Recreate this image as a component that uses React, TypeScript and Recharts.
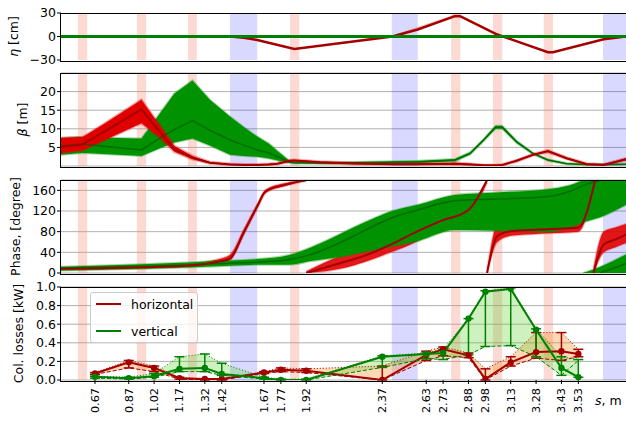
import React from "react";
import {
  ComposedChart,
  Line,
  Area,
  XAxis,
  YAxis,
  CartesianGrid,
  ReferenceArea,
  ErrorBar,
} from "recharts";

const FONT = "DejaVu Sans, sans-serif";
const S_DOMAIN: [number, number] = [0.469, 3.812];

// lattice: quadrupoles (red) and dipoles (blue)
const quadStart = [0.569, 0.918, 1.22, 1.824, 2.777, 3.025, 3.325];
const quadEnd = [0.624, 0.973, 1.273, 1.879, 2.832, 3.08, 3.38];
const dipoleStart = [1.469, 2.426, 3.676];
const dipoleEnd = [1.63, 2.58, 3.95];

// dispersion, cm
const etaS = [0.469, 1.469, 1.55, 1.63, 1.85, 2.43, 2.58, 2.8, 2.83, 3.05, 3.35, 3.38, 3.68, 3.812];
const etaH = [0, 0, -1.5, -4.5, -16, 0, 9, 26, 26, 2.5, -20, -20, -3.5, 0];
const etaHHi = [0, 0, -1.2, -4, -15.5, 1.5, 12, 28, 28, 4, -19.5, -19.5, -3, 0.5];
const etaV = [0, 0, 0, 0, 0, 0, 0, 0, 0, 0, 0, 0, 0, 0];

// beta functions, m
const betaS = [0.469, 0.597, 0.72, 0.945, 1.055, 1.14, 1.247, 1.35, 1.469, 1.55, 1.63, 1.7, 1.75, 1.824, 1.85, 2.0, 2.2, 2.43, 2.58, 2.8, 2.89, 2.97, 3.04, 3.08, 3.165, 3.26, 3.35, 3.46, 3.58, 3.68, 3.812];
const betaH = [5.2, 5.8, 9.1, 15.2, 9.2, 4.5, 2.2, 0.9, 0.4, 0.3, 0.3, 0.4, 0.6, 1.4, 1.5, 1.0, 0.7, 0.5, 0.5, 0.6, 0.4, 0.2, 0.2, 0.3, 1.4, 3.0, 4.0, 2.1, 0.5, 0.3, 1.8];
const betaHLo = [3.5, 4.2, 6.8, 11.5, 7.6, 3.8, 1.8, 0.7, 0.3, 0.2, 0.2, 0.3, 0.5, 1.2, 1.3, 0.8, 0.5, 0.4, 0.4, 0.4, 0.3, 0.1, 0.1, 0.2, 1.2, 2.8, 3.7, 1.9, 0.4, 0.2, 1.5];
const betaHHi = [7.5, 7.8, 11.2, 17.8, 10.8, 5.4, 2.7, 1.1, 0.6, 0.5, 0.5, 0.6, 0.8, 1.6, 1.7, 1.2, 0.9, 0.7, 0.7, 0.9, 0.6, 0.3, 0.3, 0.4, 1.6, 3.2, 4.2, 2.3, 0.7, 0.5, 2.1];
const betaV = [5.4, 5.9, 5.3, 4.3, 7.5, 9.8, 12.2, 9.6, 7.0, 5.6, 4.3, 3.5, 2.5, 1.0, 0.9, 0.8, 0.9, 1.0, 1.1, 1.6, 3.4, 7.0, 10.4, 10.4, 6.5, 3.4, 1.6, 0.6, 0.4, 0.4, 0.5];
const betaVLo = [3.0, 3.5, 3.2, 2.7, 4.8, 6.3, 7.4, 5.5, 3.0, 2.7, 2.5, 2.0, 1.5, 0.8, 0.7, 0.6, 0.7, 0.8, 0.8, 1.3, 3.1, 6.7, 10.0, 10.0, 6.2, 3.2, 1.4, 0.5, 0.3, 0.3, 0.4];
const betaVHi = [7.5, 7.8, 7.6, 7.4, 14.2, 19.5, 23.0, 17.8, 13.3, 10.5, 7.9, 6.0, 4.0, 1.3, 1.1, 1.0, 1.1, 1.3, 1.4, 1.9, 3.7, 7.3, 10.8, 10.8, 6.8, 3.6, 1.8, 0.8, 0.5, 0.5, 0.6];

// phase advance, degree (wrapped at 180) - horizontal segments
const phHS = [
  [0.469, 0.945, 1.25, 1.38, 1.469, 1.55, 1.63, 1.68, 1.8, 1.92],
  [1.92, 2.12, 2.27, 2.42, 2.58, 2.71, 2.88, 2.99],
  [2.99, 3.05, 3.13, 3.3, 3.53, 3.63],
  [3.62, 3.68, 3.75, 3.812],
];
const phH = [
  [8, 11, 15, 21, 28, 78, 129, 158, 171, 180],
  [0, 19, 34, 55, 81, 100, 122, 180],
  [0, 71, 81, 84, 88, 180],
  [0, 55, 65, 74],
];
const phHLo = [
  [6, 9, 13, 18, 25, 74, 125, 155, 169, 178],
  [0, 8, 22, 40, 62, 88, 112, 175],
  [0, 60, 72, 76, 80, 175],
  [0, 40, 50, 58],
];
const phHHi = [
  [10, 13, 18, 25, 35, 84, 133, 161, 174, 180],
  [3, 33, 50, 80, 100, 115, 130, 180],
  [5, 92, 100, 103, 108, 180],
  [10, 80, 88, 95],
];
// vertical
const phVS = [0.469, 0.945, 1.25, 1.469, 1.63, 1.82, 1.95, 2.06, 2.18, 2.3, 2.42, 2.58, 2.8, 3.05, 3.35, 3.48, 3.58, 3.66, 3.812];
const phV = [9, 13, 16, 19, 21, 26, 36, 50, 68, 88, 106, 122, 140, 143, 148, 158, 172, 180, null];
const phVLo = [5, 8, 11, 14, 16, 16, 23, 28, 35, 43, 51, 62, 83, 82, 80, 88, 100, 108, 132];
const phVHi = [12, 17, 21, 24, 27, 35, 50, 66, 85, 103, 119, 132, 151, 156, 162, 170, 180, 180, 180];
const phVWS = [3.56, 3.66, 3.812];
const phVW = [null, 0, 18];
const phVWHi = [0, 12, 36];

// collimator losses, kW
const collS = [0.67, 0.87, 1.02, 1.17, 1.32, 1.42, 1.67, 1.77, 1.92, 2.37, 2.63, 2.73, 2.88, 2.98, 3.13, 3.28, 3.43, 3.53];
const lossH = [0.07, 0.19, 0.13, 0.02, 0.01, 0.01, 0.08, 0.11, 0.1, 0.0, 0.27, 0.33, 0.265, 0.01, 0.19, 0.3, 0.31, 0.28];
const lossHDash = [0.06, 0.13, 0.09, 0.01, 0.0, 0.0, 0.07, 0.09, 0.08, 0.0, 0.21, 0.26, 0.24, 0.0, 0.15, 0.235, 0.21, 0.25];
const lossHDot = [0.08, 0.21, 0.15, 0.03, 0.01, 0.01, 0.09, 0.13, 0.12, 0.15, 0.31, 0.355, 0.29, 0.12, 0.25, 0.51, 0.51, 0.33];
const lossV = [0.035, 0.02, 0.04, 0.12, 0.13, 0.065, 0.02, 0.0, 0.0, 0.25, 0.28, 0.29, 0.66, 0.95, 0.98, 0.54, 0.13, 0.03];
const lossVDash = [0.02, 0.01, 0.03, 0.09, 0.09, 0.05, 0.01, 0.0, 0.0, 0.135, 0.23, 0.22, 0.27, 0.36, 0.37, 0.25, 0.05, 0.21];
const lossVDot = [0.04, 0.03, 0.07, 0.25, 0.28, 0.18, 0.03, 0.01, 0.01, 0.26, 0.29, 0.33, 0.66, 0.96, 0.99, 0.55, 0.25, 0.22];

const RED = "#a50000";
const RED_BAND = "#e00000";
const GREEN = "#008000";
const GREEN_BAND = "#009200";
const GREEN_DARK = "#005c00";

const W = 626;
const PAD = 10;
const Y_W = 61;

const etaData = etaS.map((s, i) => ({ s, h: etaH[i], hBand: [etaH[i], etaHHi[i]], v: etaV[i] }));
const betaData = betaS.map((s, i) => ({
  s,
  h: betaH[i],
  hBand: [betaHLo[i], betaHHi[i]],
  v: betaV[i],
  vBand: [betaVLo[i], betaVHi[i]],
}));
const phHData = phHS.map((seg, k) =>
  seg.map((s, i) => ({ s, m: phH[k][i], band: [phHLo[k][i], phHHi[k][i]] }))
);
const phVData = phVS.map((s, i) => ({ s, m: phV[i], band: [phVLo[i], phVHi[i]] }));
const phVWData = phVWS.map((s, i) => ({ s, m: phVW[i], band: [0, phVWHi[i]] }));

const lossData = collS.map((s, i) => {
  const hMin = Math.min(lossH[i], lossHDash[i], lossHDot[i]);
  const hMax = Math.max(lossH[i], lossHDash[i], lossHDot[i]);
  const vMin = Math.min(lossV[i], lossVDash[i], lossVDot[i]);
  const vMax = Math.max(lossV[i], lossVDash[i], lossVDot[i]);
  return {
    s,
    h: lossH[i],
    hDash: lossHDash[i],
    hDot: lossHDot[i],
    hRange: [hMin, hMax],
    hErr: [lossH[i] - hMin, hMax - lossH[i]],
    v: lossV[i],
    vDash: lossVDash[i],
    vDot: lossVDot[i],
    vRange: [vMin, vMax],
    vErr: [lossV[i] - vMin, vMax - lossV[i]],
  };
});

function bands() {
  return [
    ...quadStart.map((a, i) => (
      <ReferenceArea key={`q${i}`} x1={a} x2={quadEnd[i]} fill="#fa8072" fillOpacity={0.3} stroke="none" ifOverflow="hidden" />
    )),
    ...dipoleStart.map((a, i) => (
      <ReferenceArea key={`d${i}`} x1={a} x2={dipoleEnd[i]} fill="#0000ff" fillOpacity={0.15} stroke="none" ifOverflow="hidden" />
    )),
  ];
}

const tickStyle = { fontSize: 12.5, fill: "#000", fontFamily: FONT };
const minus = (v: number) => (v < 0 ? "\u2212" + Math.abs(v) : String(v));

function yAxis(domain: [number, number], ticks: number[], fmt?: (v: number) => string) {
  return (
    <YAxis
      width={Y_W}
      type="number"
      domain={domain}
      ticks={ticks}
      allowDataOverflow
      interval={0}
      tickFormatter={fmt}
      tick={tickStyle}
      tickSize={4}
      tickMargin={1}
      axisLine={false}
      tickLine={{ stroke: "#000" }}
    />
  );
}

function SlantTick(props: any) {
  const { x, y, payload } = props;
  return (
    <text
      transform={`translate(${x},${y + 2}) rotate(-90)`}
      textAnchor="end"
      dy="0.35em"
      fontSize={11.25}
      fill="#000"
      fontFamily={FONT}
    >
      {Number(payload.value).toFixed(2)}
    </text>
  );
}

function Frame({ top, height }: { top: number; height: number }) {
  return (
    <div
      style={{
        position: "absolute",
        left: Y_W - 1,
        top: top - 0.5,
        width: W,
        height: height,
        borderTop: "1px solid #000",
        borderLeft: "1px solid #000",
        borderBottom: "1px solid #000",
        pointerEvents: "none",
      }}
    />
  );
}

const chartBox = (top: number): React.CSSProperties => ({ position: "absolute", left: 0, top: top - PAD });

export default function App() {
  return (
    <div
      style={{
        position: "absolute",
        left: 0,
        top: 0,
        width: W,
        height: 421,
        overflow: "hidden",
        background: "#fff",
        fontFamily: FONT,
      }}
    >
      {/* dispersion */}
      <div style={chartBox(13)}>
        <ComposedChart width={W} height={47 + 2 * PAD} data={etaData} margin={{ top: PAD, bottom: PAD, left: 0, right: 0 }}>
          <XAxis type="number" dataKey="s" domain={S_DOMAIN} allowDataOverflow hide />
          {yAxis([-30, 30], [-30, 0, 30], minus)}
          {bands()}
          <Area dataKey="hBand" stroke="none" fill={RED_BAND} fillOpacity={0.3} isAnimationActive={false} />
          <Line dataKey="h" stroke={RED} strokeWidth={2.5} dot={false} isAnimationActive={false} />
          <Line dataKey="v" stroke={GREEN} strokeWidth={3} dot={false} isAnimationActive={false} />
        </ComposedChart>
      </div>
      <Frame top={13} height={47} />

      {/* beta */}
      <div style={chartBox(73)}>
        <ComposedChart width={W} height={93 + 2 * PAD} data={betaData} margin={{ top: PAD, bottom: PAD, left: 0, right: 0 }}>
          <XAxis type="number" dataKey="s" domain={S_DOMAIN} allowDataOverflow hide />
          {yAxis([0, 25], [5, 10, 15, 20])}
          <CartesianGrid vertical={false} stroke="#b0b0b0" />
          {bands()}
          <Area dataKey="vBand" stroke={GREEN_BAND} strokeOpacity={0.35} strokeWidth={2} fill={GREEN_BAND} fillOpacity={1} isAnimationActive={false} />
          <Line dataKey="v" stroke={GREEN_DARK} strokeWidth={1.5} strokeOpacity={0.7} dot={false} isAnimationActive={false} />
          <Area dataKey="hBand" stroke={RED_BAND} strokeOpacity={0.35} strokeWidth={2.5} fill={RED_BAND} fillOpacity={1} isAnimationActive={false} />
          <Line dataKey="h" stroke={RED} strokeWidth={2} dot={false} isAnimationActive={false} />
        </ComposedChart>
      </div>
      <Frame top={73} height={93} />

      {/* phase */}
      <div style={chartBox(180)}>
        <ComposedChart width={W} height={93 + 2 * PAD} margin={{ top: PAD, bottom: PAD, left: 0, right: 0 }}>
          <XAxis type="number" dataKey="s" domain={S_DOMAIN} allowDataOverflow hide />
          {yAxis([0, 180], [0, 40, 80, 120, 160])}
          <CartesianGrid vertical={false} stroke="#b0b0b0" />
          {bands()}
          {phHData.map((d, k) => (
            <Area key={`hb${k}`} type="monotone" data={d} dataKey="band" stroke={RED_BAND} strokeOpacity={0.3} strokeWidth={2} fill={RED_BAND} fillOpacity={0.9} isAnimationActive={false} />
          ))}
          <Area type="monotone" data={phVData} dataKey="band" stroke={GREEN_BAND} strokeOpacity={0.35} strokeWidth={2} fill={GREEN_BAND} fillOpacity={1} isAnimationActive={false} />
          <Area type="monotone" data={phVWData} dataKey="band" stroke={GREEN_BAND} strokeOpacity={0.35} strokeWidth={2} fill={GREEN_BAND} fillOpacity={1} isAnimationActive={false} />
          <Line type="monotone" data={phVData} dataKey="m" stroke={GREEN_DARK} strokeWidth={1.5} strokeOpacity={0.7} dot={false} isAnimationActive={false} />
          <Line type="monotone" data={phVWData} dataKey="m" stroke={GREEN_DARK} strokeWidth={1.5} strokeOpacity={0.7} dot={false} isAnimationActive={false} />
          {phHData.map((d, k) => (
            <Line key={`hm${k}`} type="monotone" data={d} dataKey="m" stroke={RED} strokeWidth={2} dot={false} isAnimationActive={false} />
          ))}
        </ComposedChart>
      </div>
      <Frame top={180} height={93} />

      {/* collimator losses */}
      <div style={chartBox(287)}>
        <ComposedChart width={W} height={93 + PAD + 40} data={lossData} margin={{ top: PAD, bottom: 0, left: 0, right: 0 }}>
          <XAxis
            type="number"
            dataKey="s"
            domain={S_DOMAIN}
            allowDataOverflow
            ticks={collS}
            interval={0}
            height={40}
            tick={<SlantTick />}
            tickSize={4}
            tickLine={{ stroke: "#000" }}
            axisLine={false}
          />
          {yAxis([0, 1], [0, 0.2, 0.4, 0.6, 0.8, 1.0], (v) => v.toFixed(1))}
          <CartesianGrid vertical={false} stroke="#b0b0b0" />
          {bands()}
          <Area dataKey="hRange" stroke="none" fill="#ff7f0e" fillOpacity={0.3} isAnimationActive={false} />
          <Area dataKey="vRange" stroke="none" fill="#5cd12e" fillOpacity={0.3} isAnimationActive={false} />
          <Line dataKey="hDash" stroke={RED} strokeWidth={1} strokeDasharray="4 2" dot={false} isAnimationActive={false} />
          <Line dataKey="hDot" stroke={RED} strokeWidth={1} strokeDasharray="1 2" dot={false} isAnimationActive={false} />
          <Line dataKey="h" stroke={RED} strokeWidth={2} dot={{ r: 2.2, fill: RED, stroke: RED }} isAnimationActive={false}>
            <ErrorBar dataKey="hErr" width={5} stroke={RED} strokeWidth={1.5} direction="y" isAnimationActive={false} />
          </Line>
          <Line dataKey="vDash" stroke={GREEN} strokeWidth={1} strokeDasharray="4 2" dot={false} isAnimationActive={false} />
          <Line dataKey="vDot" stroke={GREEN} strokeWidth={1} strokeDasharray="1 2" dot={false} isAnimationActive={false} />
          <Line dataKey="v" stroke={GREEN} strokeWidth={2} dot={{ r: 2.2, fill: GREEN, stroke: GREEN }} isAnimationActive={false}>
            <ErrorBar dataKey="vErr" width={5} stroke={GREEN} strokeWidth={1.5} direction="y" isAnimationActive={false} />
          </Line>
        </ComposedChart>
      </div>
      <Frame top={287} height={93} />

      {/* legend */}
      <div
        style={{
          position: "absolute",
          left: 90,
          top: 292,
          width: 106,
          height: 49,
          border: "1px solid #cccccc",
          borderRadius: 3,
          background: "rgba(255,255,255,0.8)",
          fontSize: 12.5,
        }}
      >
        <svg width={106} height={49} style={{ position: "absolute", left: 0, top: 0 }}>
          <line x1={5} x2={30} y1={11} y2={11} stroke={RED} strokeWidth={2} />
          <text x={40} y={15.5} fontSize={12.5} fontFamily={FONT} fill="#000">horizontal</text>
          <line x1={5} x2={30} y1={38} y2={38} stroke={GREEN} strokeWidth={2} />
          <text x={40} y={42.5} fontSize={12.5} fontFamily={FONT} fill="#000">vertical</text>
        </svg>
      </div>

      {/* axis labels */}
      <svg width={W} height={421} style={{ position: "absolute", left: 0, top: 0, pointerEvents: "none" }}>
        <text transform="translate(18,36.5) rotate(-90)" textAnchor="middle" fontSize={12.5} fontFamily={FONT} fill="#000">
          <tspan fontStyle="italic">η</tspan> [cm]
        </text>
        <text transform="translate(27,119.5) rotate(-90)" textAnchor="middle" fontSize={12.5} fontFamily={FONT} fill="#000">
          <tspan fontStyle="italic">β</tspan> [m]
        </text>
        <text transform="translate(20,226.5) rotate(-90)" textAnchor="middle" fontSize={12.5} fontFamily={FONT} fill="#000">
          Phase, [degree]
        </text>
        <text transform="translate(23,333.5) rotate(-90)" textAnchor="middle" fontSize={12.5} fontFamily={FONT} fill="#000">
          Col. losses [kW]
        </text>
        <text x={595} y={405} fontSize={12.5} fontFamily={FONT} fill="#000">
          <tspan fontStyle="italic">s</tspan>, m
        </text>
      </svg>
    </div>
  );
}
